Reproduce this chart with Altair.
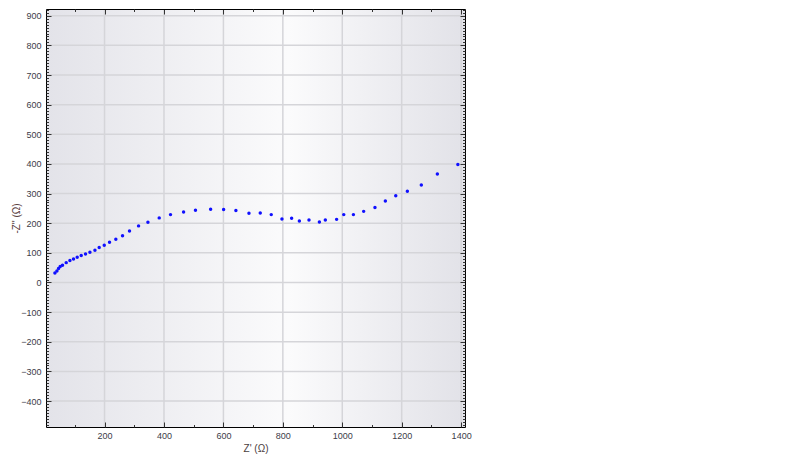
import altair as alt
import pandas as pd

# Impedance data
z_re = [33, 39.7, 45.2, 50.8, 58.6, 71, 83.5, 95.6, 108, 121.5, 136, 150.8, 167.7, 182,
        199, 216.8, 238, 260.6, 284, 314.5, 346, 384, 422, 466, 506, 557, 600.7, 642,
        686, 724, 761, 797, 829.6, 855.6, 888, 923, 943, 981, 1005, 1037.5, 1072, 1110,
        1145, 1180, 1219, 1266, 1320, 1389]
z_im = [32.4, 39, 47, 54, 58, 67, 74, 79.5, 85, 91, 96.4, 102, 109, 118,
        125.7, 135.8, 146, 158, 174, 191, 203, 218, 229, 238, 244, 247, 246, 242.6,
        233.6, 234.6, 229, 214, 216.7, 207.6, 211, 204, 211, 213, 229, 229, 240, 253,
        275, 293, 308, 329, 366, 398]

x_major = [200, 400, 600, 800, 1000, 1200, 1400]
x_minor = [100, 300, 500, 700, 900, 1100, 1300]
y_major = [-400, -300, -200, -100, 0, 100, 200, 300, 400, 500, 600, 700, 800, 900]
y_minor = [v for v in range(-480, 921, 10) if v % 100 != 0]

x_domain = [3, 1413]
y_domain = [-487.5, 922.7]

W, H = 419, 418

df = pd.DataFrame({"x": z_re, "y": z_im})
gx = pd.DataFrame({"gx": x_major})
gy = pd.DataFrame({"gy": y_major})

sx = alt.Scale(domain=x_domain, nice=False, zero=False)
sy = alt.Scale(domain=y_domain, nice=False, zero=False)

FONT = "Liberation Sans"
LABEL_COLOR = "#3c3c48"
TICK_COLOR = "#333333"

bg = alt.Chart(pd.DataFrame({"a": [0]})).mark_rect(
    fill=alt.LinearGradient(
        gradient="linear",
        stops=[alt.GradientStop(color="#e3e3e9", offset=0),
               alt.GradientStop(color="#fbfbfc", offset=0.58),
               alt.GradientStop(color="#e2e2e8", offset=1)],
        x1=0, x2=1, y1=0, y2=0),
    stroke="transparent",
).encode(x=alt.value(0), x2=alt.value(W), y=alt.value(0), y2=alt.value(H))

grid_x = alt.Chart(gx).mark_rule(color="#d5d5d9", strokeWidth=1.5).encode(
    x=alt.X("gx:Q", scale=sx, axis=None))
grid_y = alt.Chart(gy).mark_rule(color="#d5d5d9", strokeWidth=1.5).encode(
    y=alt.Y("gy:Q", scale=sy, axis=None))

points = alt.Chart(df).mark_circle(size=12, color="#1010ff", opacity=1).encode(
    x=alt.X("x:Q", scale=sx, axis=alt.Axis(
        orient="bottom", values=x_major, labels=True, ticks=False, tickSize=0,
        grid=False, domain=True, domainColor="#000000", domainWidth=1, zindex=1,
        labelFont=FONT, labelFontSize=9, labelColor=LABEL_COLOR, labelPadding=4,
        labelFlush=False, labelOverlap=False, format="d",
        title="Z' (Ω)", titleFont=FONT, titleFontSize=10, titleFontWeight="normal",
        titleColor="#4a4040", titlePadding=3)),
    y=alt.Y("y:Q", scale=sy, axis=alt.Axis(
        orient="left", values=y_major, labels=True, ticks=False, tickSize=0,
        grid=False, domain=True, domainColor="#000000", domainWidth=1, zindex=1,
        labelFont=FONT, labelFontSize=9, labelColor=LABEL_COLOR, labelPadding=5,
        labelFlush=False, labelOverlap=False, format="d",
        title="-Z'' (Ω)", titleFont=FONT, titleFontSize=10, titleFontWeight="normal",
        titleColor="#5a4040", titleX=-30, titleY=H / 2, titleAngle=270,
        titleAlign="center", titleBaseline="middle")),
)


def tick_axis(orient, offset, values, size, domain=False):
    return alt.Axis(orient=orient, offset=offset, values=values, tickSize=size,
                    labels=False, domain=domain, domainColor="#000000", domainWidth=1,
                    grid=False, title=None, ticks=True, tickColor=TICK_COLOR,
                    tickWidth=1, zindex=1)


def tick_layer(xo, xoff, xv, yo, yoff, yv, size, domain=False):
    return alt.Chart(df).mark_point(opacity=0).encode(
        x=alt.X("x:Q", scale=sx, axis=tick_axis(xo, xoff, xv, size, domain)),
        y=alt.Y("y:Q", scale=sy, axis=tick_axis(yo, yoff, yv, size, domain)),
    )


# inward ticks at bottom and left
t1 = tick_layer("top", -H, x_major, "right", -W, y_major, 5)
t2 = tick_layer("top", -H, x_minor, "right", -W, y_minor, 2.5)
# inward ticks at top and right (with frame line)
t3 = tick_layer("bottom", -H, x_major, "left", -W, y_major, 5, domain=True)
t4 = tick_layer("bottom", -H, x_minor, "left", -W, y_minor, 2.5)

chart = alt.layer(bg, grid_x, grid_y, points, t1, t2, t3, t4).resolve_axis(
    x="independent", y="independent"
).properties(
    width=W, height=H,
    autosize=alt.AutoSizeParams(type="none"),
    padding={"left": 38, "top": 1, "right": 20, "bottom": 30},
    background="#ffffff",
).configure_view(stroke=None)

chart.save("out.html", embed_options={"renderer": "svg", "actions": False})
